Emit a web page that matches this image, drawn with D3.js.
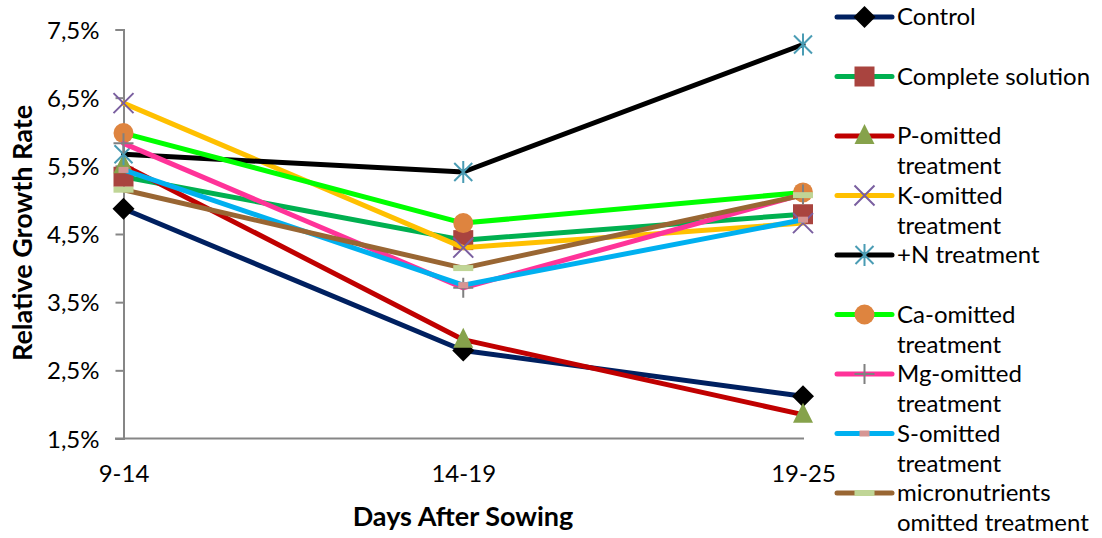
<!DOCTYPE html>
<html lang="en">
<head>
    <meta charset="UTF-8">
    <title>Relative Growth Rate</title>
    <script src="https://d3js.org/d3.v7.min.js"></script>
    <style>
        body {
            margin: 0;
            background: #ffffff;
        }
        svg text {
            font-family: Lato, "Open Sans", sans-serif;
            fill: #000;
        }
    </style>
</head>
<body>
    <div id="chart"></div>
    <script>
        // categories (days after sowing)
        const periods = ["9-14", "14-19", "19-25"];
        const yTicks = [1.5, 2.5, 3.5, 4.5, 5.5, 6.5, 7.5];

        // series values, in %
        const control = [4.87, 2.79, 2.12];
        const complete = [5.34, 4.41, 4.79];
        const pOmitted = [5.51, 2.95, 1.85];
        const kOmitted = [6.42, 4.30, 4.66];
        const plusN = [5.67, 5.41, 7.28];
        const caOmitted = [5.98, 4.66, 5.11];
        const mgOmitted = [5.83, 3.71, 5.08];
        const sOmitted = [5.44, 3.75, 4.71];
        const microOmitted = [5.15, 4.00, 5.07];

        const series = [
            {name: ["Control"], values: control, line: "#002060", marker: "diamond", mfill: "#000000"},
            {name: ["Complete solution"], values: complete, line: "#00B050", marker: "square", mfill: "#A9443F"},
            {name: ["P-omitted", "treatment"], values: pOmitted, line: "#C00000", marker: "triangle", mfill: "#86A24B"},
            {name: ["K-omitted", "treatment"], values: kOmitted, line: "#FFC000", marker: "x", mfill: "#7A5FA0"},
            {name: ["+N treatment"], values: plusN, line: "#000000", marker: "star", mfill: "#4A9CB4"},
            {name: ["Ca-omitted", "treatment"], values: caOmitted, line: "#00FF00", marker: "circle", mfill: "#DE843F"},
            {name: ["Mg-omitted", "treatment"], values: mgOmitted, line: "#FF3399", marker: "plus", mfill: "#808080"},
            {name: ["S-omitted", "treatment"], values: sOmitted, line: "#00B0F0", marker: "smallrect", mfill: "#D69593"},
            {name: ["micronutrients", "omitted treatment"], values: microOmitted, line: "#996633", marker: "longrect", mfill: "#C0D596"}
        ];

        const W = 1102, H = 538;
        const svg = d3.select("#chart").append("svg")
            .attr("width", W)
            .attr("height", H);

        const x = d3.scalePoint()
            .domain(periods)
            .range([123.5, 803]);
        const y = d3.scaleLinear()
            .domain([1.5, 7.5])
            .range([438.5, 29.5]);

        // y axis
        const yAxis = svg.append("g")
            .attr("transform", "translate(123.5,0)")
            .call(d3.axisLeft(y).tickValues(yTicks).tickSize(8).tickPadding(16)
                .tickFormat(d => d3.format(".1f")(d).replace(".", ",") + "%"));
        yAxis.select(".domain").attr("stroke", "#868686").attr("stroke-width", 2);
        yAxis.selectAll(".tick line").attr("stroke", "#868686").attr("stroke-width", 2);
        yAxis.selectAll(".tick text").style("font-size", "24px").attr("dy", "0.36em");

        // x axis
        const xAxis = svg.append("g")
            .attr("transform", "translate(0,438.5)")
            .call(d3.axisBottom(x).tickSize(0).tickPadding(26));
        xAxis.select(".domain").attr("stroke", "#868686").attr("stroke-width", 2)
            .attr("d", "M115,0H804");
        xAxis.selectAll(".tick text").style("font-size", "24px");

        // axis titles
        svg.append("text")
            .attr("transform", "translate(32,233) rotate(-90)")
            .attr("text-anchor", "middle")
            .style("font-size", "27px")
            .style("font-weight", "bold")
            .text("Relative Growth Rate");
        svg.append("text")
            .attr("x", 463)
            .attr("y", 526)
            .attr("text-anchor", "middle")
            .style("font-size", "27px")
            .style("font-weight", "bold")
            .text("Days After Sowing");

        function drawMarker(g, s) {
            switch (s.marker) {
                case "diamond":
                    g.append("path").attr("d", "M0,-11L11,0L0,11L-11,0Z").attr("fill", s.mfill);
                    break;
                case "square":
                    g.append("rect").attr("x", -10).attr("y", -10).attr("width", 20).attr("height", 20).attr("fill", s.mfill);
                    break;
                case "triangle":
                    g.append("path").attr("d", "M0,-12L10,8L-10,8Z").attr("fill", s.mfill);
                    break;
                case "x":
                    g.append("path").attr("d", "M-10,-10L10,10M-10,10L10,-10")
                        .attr("stroke", s.mfill).attr("stroke-width", 2).attr("fill", "none");
                    break;
                case "star":
                    g.append("path").attr("d", "M-9,-9L9,9M-9,9L9,-9M0,-11V11")
                        .attr("stroke", s.mfill).attr("stroke-width", 2).attr("fill", "none");
                    break;
                case "circle":
                    g.append("circle").attr("r", 10).attr("fill", s.mfill);
                    break;
                case "plus":
                    g.append("path").attr("d", "M-10,0H10M0,-10V10")
                        .attr("stroke", s.mfill).attr("stroke-width", 2).attr("fill", "none");
                    break;
                case "smallrect":
                    g.append("rect").attr("x", -5).attr("y", -3).attr("width", 10).attr("height", 6).attr("fill", s.mfill);
                    break;
                case "longrect":
                    g.append("rect").attr("x", -10).attr("y", -3).attr("width", 20).attr("height", 6).attr("fill", s.mfill);
                    break;
            }
        }

        const line = d3.line()
            .x((d, i) => x(periods[i]))
            .y(d => y(d));

        series.forEach(s => {
            const g = svg.append("g");
            g.append("path")
                .datum(s.values)
                .attr("d", line)
                .attr("fill", "none")
                .attr("stroke", s.line)
                .attr("stroke-width", 5)
                .attr("stroke-linejoin", "round")
                .attr("stroke-linecap", "round");
            s.values.forEach((v, i) => {
                const m = g.append("g").attr("transform", `translate(${x(periods[i])},${y(v)})`);
                drawMarker(m, s);
            });
        });

        // legend
        const legend = svg.append("g");
        series.forEach((s, i) => {
            const ly = 17 + i * 59.5;
            const lg = legend.append("g").attr("transform", `translate(0,${ly})`);
            lg.append("line")
                .attr("x1", 837).attr("x2", 892)
                .attr("stroke", s.line)
                .attr("stroke-width", 5)
                .attr("stroke-linecap", "round");
            const m = lg.append("g").attr("transform", "translate(864.5,0)");
            drawMarker(m, s);
            s.name.forEach((t, j) => {
                lg.append("text")
                    .attr("x", 897)
                    .attr("y", j * 30)
                    .attr("dy", "0.35em")
                    .style("font-size", "24px")
                    .text(t);
            });
        });
    </script>
</body>
</html>
